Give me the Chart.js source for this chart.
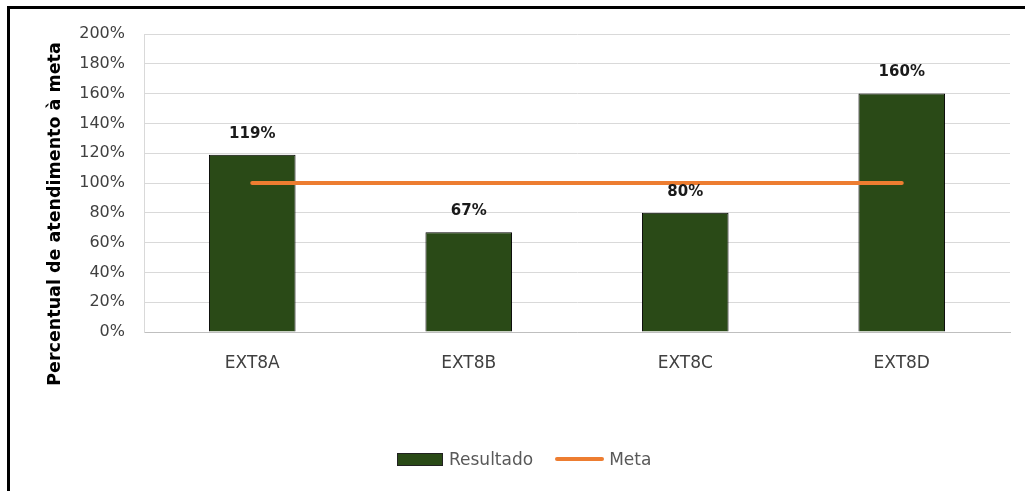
<!DOCTYPE html>
<html>
<head>
<meta charset="utf-8">
<script src="https://cdn.jsdelivr.net/npm/chart.js@4/dist/chart.umd.min.js"></script>
<style>
  body { margin: 0; background: #fff; overflow: hidden; }
  #wrap { position: relative; width: 1025px; height: 491px; }
  #frame { position: absolute; left: 7px; top: 6px; right: -20px; bottom: -20px;
           border-left: 3px solid #000; border-top: 3px solid #000; pointer-events: none; }
  #c { position: absolute; left: 0; top: 0; }
  #legend { position: absolute; left: 397px; top: 449px; height: 20px; display: flex; align-items: center;
            font: 17px "DejaVu Sans", sans-serif; color: #595959; }
  #legend .box { width: 44px; height: 11px; background: #2a4a17; border: 1px solid #222; margin-right: 6px; }
  #legend .ln { width: 49px; height: 4px; border-radius: 2px; background: #ed7d31; margin-left: 22px; margin-right: 5px; }
</style>
</head>
<body>
<div id="wrap">
  <canvas id="c" width="1025" height="491"></canvas>
  <div id="frame"></div>
  <div id="legend"><span class="box"></span><span>Resultado</span><span class="ln"></span><span>Meta</span></div>
</div>
<script>
var categories = ["EXT8A", "EXT8B", "EXT8C", "EXT8D"];
var resultado = [119, 67, 80, 160];
var meta = [100, 100, 100, 100];
var yTitle = "Percentual de atendimento à meta";

//labels above bars
var barLabels = {
  id: "barLabels",
  afterDatasetsDraw: function(chart) {
    var ctx = chart.ctx;
    var m = chart.getDatasetMeta(1);
    ctx.save();
    ctx.font = "bold 15px 'DejaVu Sans'";
    ctx.fillStyle = "#1a1a1a";
    ctx.textAlign = "center";
    ctx.textBaseline = "middle";
    m.data.forEach(function(el, i) {
      ctx.fillText(resultado[i] + "%", el.x, el.y - 21);
    });
    ctx.restore();
  }
};

//rotated axis title
var axisTitle = {
  id: "axisTitle",
  afterDraw: function(chart) {
    var ctx = chart.ctx;
    ctx.save();
    ctx.translate(55, 214);
    ctx.rotate(-Math.PI / 2);
    ctx.font = "bold 17.5px 'DejaVu Sans'";
    ctx.fillStyle = "#000";
    ctx.textAlign = "center";
    ctx.textBaseline = "middle";
    ctx.fillText(yTitle, 0, 0);
    ctx.restore();
  }
};

new Chart(document.getElementById("c"), {
  data: {
    labels: categories,
    datasets: [
      {
        type: "line",
        label: "Meta",
        data: meta,
        borderColor: "#ed7d31",
        borderWidth: 4,
        borderCapStyle: "round",
        pointRadius: 0,
        order: 0
      },
      {
        type: "bar",
        label: "Resultado",
        data: resultado,
        backgroundColor: "#2a4a17",
        borderColor: "#000",
        borderWidth: 1,
        barPercentage: 0.4,
        categoryPercentage: 1,
        order: 1
      }
    ]
  },
  options: {
    responsive: false,
    animation: false,
    layout: { padding: { top: 34, right: 15, bottom: 0, left: 0 } },
    plugins: { legend: { display: false }, tooltip: { enabled: false } },
    scales: {
      x: {
        grid: { display: false, drawTicks: false },
        border: { display: true, color: "#bfbfbf", width: 1 },
        ticks: { padding: 21, color: "#404040", font: { family: "DejaVu Sans", size: 17 } },
        afterFit: function(s) { s.height = 159; }
      },
      y: {
        min: 0,
        max: 200,
        grid: { color: "#d9d9d9", drawTicks: false },
        border: { display: true, color: "#d9d9d9" },
        ticks: {
          stepSize: 20,
          padding: 19,
          color: "#404040",
          font: { family: "DejaVu Sans", size: 16 },
          callback: function(v) { return v + "%"; }
        },
        afterFit: function(s) { s.width = 144; }
      }
    }
  },
  plugins: [barLabels, axisTitle]
});
</script>
</body>
</html>
